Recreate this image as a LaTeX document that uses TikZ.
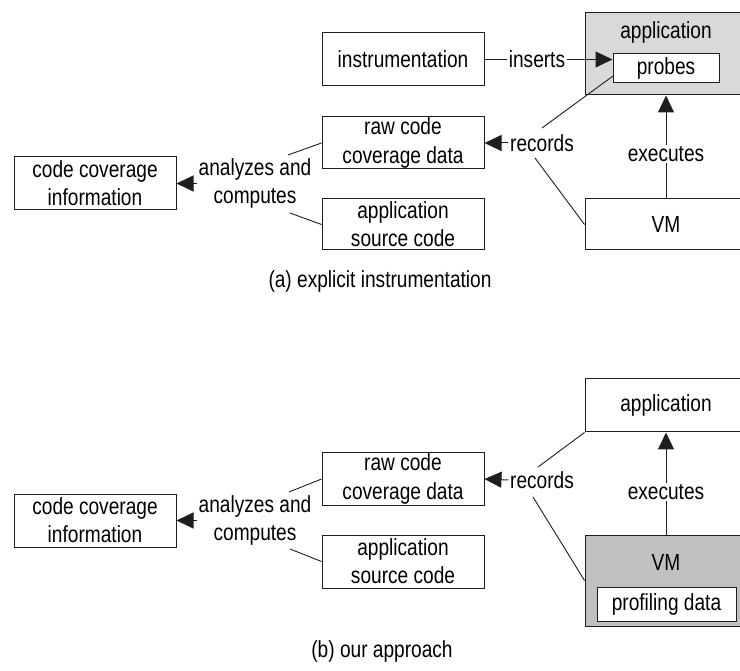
\documentclass[tikz,border=0pt]{standalone}
\usepackage{fontspec}
\setmainfont[FakeStretch=0.82]{Liberation Sans}
\usetikzlibrary{arrows.meta}
\definecolor{grayA}{RGB}{217,217,217}
\definecolor{grayB}{RGB}{192,192,192}
\definecolor{edge}{RGB}{30,30,30}
\begin{document}
\begin{tikzpicture}[x=1pt,y=-1pt,
  every node/.style={font=\fontsize{23.3}{28.3}\selectfont, text=black},
  box/.style={draw=edge, line width=1pt, minimum width=162pt, align=center, inner sep=0pt},
  lbl/.style={fill=white, inner sep=1.5pt, align=center},
  arr/.style={draw=edge, line width=1pt, -{Triangle[length=17pt,width=16pt]}},
  ln/.style={draw=edge, line width=0.9pt}]
\useasboundingbox (0,0) rectangle (740,671);
\clip (0,0) rectangle (740,671);

% ---------- (a) ----------
\node[box, minimum height=53pt] (code1) at (95,183.5) {code coverage\\information};
\node[box, minimum height=52pt] (raw1) at (403,143) {raw code\\coverage data};
\node[box, minimum height=51pt] (src1) at (403,224.5) {application\\source code};
\node[box, minimum height=53pt] (ins1) at (403,59.5) {instrumentation};
\node[box, fill=grayA, minimum height=82pt] (app1) at (666,54) {};
\node (apptxt1) at (666,32) {application};
\node[box, fill=white, minimum width=106pt, minimum height=29pt] (probes1) at (666,68.5) {probes};
\node[box, minimum height=51pt] (vm1) at (666,224.5) {VM};
\node[lbl] (rec1) at (542,143) {records};
\node[lbl] (ana1) at (255,183.5) {analyzes and\\computes};
\coordinate (a1) at (288,155);
\coordinate (a2) at (290,213);
\coordinate (p1) at (613,76);
\coordinate (r1) at (542,128);
\coordinate (r2) at (535,158);

\draw[arr] (ins1.east) -- node[lbl, pos=0.41] (ins1lbl) {inserts} (ins1.east -| probes1.west);
\draw[arr] (rec1.west) -- (raw1.east);
\draw[arr] (ana1.west) -- (code1.east);
\draw[ln] (a1) -- (raw1.west);
\draw[ln] (a2) -- (src1.west);
\draw[ln] (p1) -- (r1);
\draw[ln] (r2) -- (vm1.west);
\draw[arr] (vm1.north) -- node[lbl, pos=0.43] (exe1) {executes} (app1.south);
\node (capA) at (380,281) {(a) explicit instrumentation};

% ---------- (b) ----------
\node[box, minimum height=53pt] (code2) at (95,520.5) {code coverage\\information};
\node[box, minimum height=52pt] (raw2) at (403,479) {raw code\\coverage data};
\node[box, minimum height=53pt] (src2) at (403,561.5) {application\\source code};
\node[box, minimum height=53pt] (app2) at (666,405.5) {application};
\node[box, fill=grayB, minimum height=91pt] (vm2) at (666,580.5) {};
\node (vmtxt2) at (666,562) {VM};
\node[box, fill=white, minimum width=139pt, minimum height=34pt] (prof2) at (666.5,604) {profiling data};
\node[lbl] (rec2) at (542,480) {records};
\node[lbl] (ana2) at (255,520.5) {analyzes and\\computes};
\coordinate (b1) at (289,492);
\coordinate (b2) at (290,549);
\coordinate (s1) at (538,467);
\coordinate (s2) at (533,497);

\draw[arr] (rec2.west) -- (raw2.east);
\draw[arr] (ana2.west) -- (code2.east);
\draw[ln] (b1) -- (raw2.west);
\draw[ln] (b2) -- (src2.west);
\draw[ln] (app2.south west) -- (s1);
\draw[ln] (s2) -- (vm2.west);
\draw[arr] (vm2.north) -- node[lbl, pos=0.42] (exe2) {executes} (app2.south);
\node (capB) at (382,651) {(b) our approach};
\end{tikzpicture}
\end{document}
